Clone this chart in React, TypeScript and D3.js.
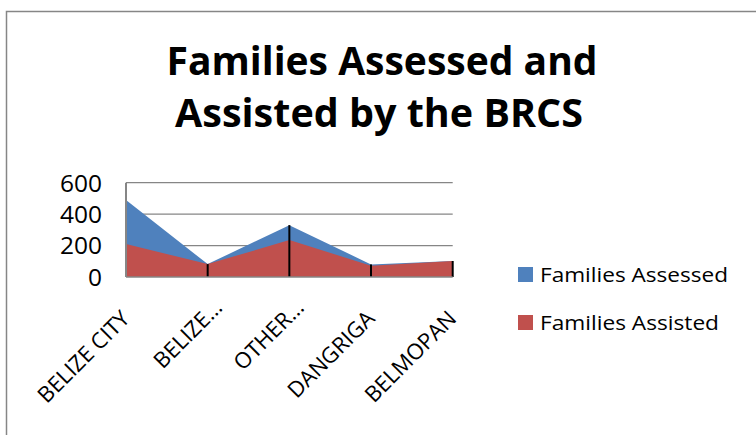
import React from "react";
import * as d3 from "d3";

const categories = ["BELIZE CITY", "BELIZE…", "OTHER…", "DANGRIGA", "BELMOPAN"];
const assessed = [490, 82, 330, 80, 102];
const assisted = [210, 82, 235, 72, 102];
const yTicks = [0, 200, 400, 600];
const seriesNames = ["Families Assessed", "Families Assisted"];
const seriesColors = ["#4F81BD", "#C0504D"];

const W = 756;
const H = 435;
const FONT = "'Open Sans', 'DejaVu Sans', sans-serif";

export default function App() {
  const x = d3.scalePoint<string>().domain(categories).range([126, 452.7]).padding(0);
  const y = d3.scaleLinear().domain([0, 600]).range([277, 182.7]);

  const area = (vals: number[]) =>
    d3
      .area<number>()
      .x((_, i) => x(categories[i]) as number)
      .y0(y(0))
      .y1((d) => y(d))(vals) as string;

  const legendTextLen = [188, 179];

  // truncated labels sit further up along the diagonal, like in Excel
  const labelShift = (c: string) => (c.endsWith("…") ? 11 : 0);

  return (
    <div style={{ position: "fixed", left: 0, top: 0 }}>
      <svg width={W} height={H} style={{ display: "block", background: "#fff" }}>
        <rect x={6.5} y={11.5} width={800} height={600} fill="#fff" stroke="#868686" strokeWidth={1.5} />

        {/* title */}
        <g fontFamily={FONT} fontWeight={700} fontSize={39} fill="#000" textAnchor="middle">
          <text x={382} y={75} textLength={431} lengthAdjust="spacingAndGlyphs">
            Families Assessed and
          </text>
          <text x={379} y={127} textLength={408} lengthAdjust="spacingAndGlyphs">
            Assisted by the BRCS
          </text>
        </g>

        {/* gridlines */}
        {yTicks
          .filter((t) => t > 0)
          .map((t) => (
            <line key={t} x1={126} x2={452.7} y1={y(t)} y2={y(t)} stroke="#868686" strokeWidth={1.3} />
          ))}

        {/* areas */}
        <path d={area(assessed)} fill={seriesColors[0]} />
        <path d={area(assisted)} fill={seriesColors[1]} />

        {/* drop lines */}
        {categories.map((c, i) => (
          <line
            key={c}
            x1={x(c)}
            x2={x(c)}
            y1={y(0)}
            y2={y(Math.max(assessed[i], assisted[i]))}
            stroke="#000"
            strokeWidth={2}
          />
        ))}

        {/* axes */}
        <line x1={126} x2={126} y1={y(600)} y2={y(0)} stroke="#868686" strokeWidth={2} />
        <line x1={126} x2={452.7} y1={y(0)} y2={y(0)} stroke="#868686" strokeWidth={1.5} />

        {/* y tick labels */}
        <g fontFamily={FONT} fontSize={24.5} fill="#000" textAnchor="end">
          {yTicks.map((t) => (
            <text key={t} x={102} y={y(t) + 8.8}>
              {t}
            </text>
          ))}
        </g>

        {/* x tick labels */}
        <g fontFamily={FONT} fontSize={22} fill="#000" textAnchor="end">
          {categories.map((c) => (
            <text
              key={c}
              transform={`translate(${(x(c) as number) + 5 + labelShift(c)},${y(0) + 43 - labelShift(c)}) rotate(-45)`}
            >
              {c}
            </text>
          ))}
        </g>

        {/* legend */}
        <g fontFamily={FONT} fontSize={20} fill="#000">
          {seriesNames.map((s, i) => (
            <g key={s} transform={`translate(518,${267 + i * 48})`}>
              <rect width={15} height={15} fill={seriesColors[i]} />
              <text x={22} y={14.5} textLength={legendTextLen[i]} lengthAdjust="spacingAndGlyphs">
                {s}
              </text>
            </g>
          ))}
        </g>
      </svg>
    </div>
  );
}
